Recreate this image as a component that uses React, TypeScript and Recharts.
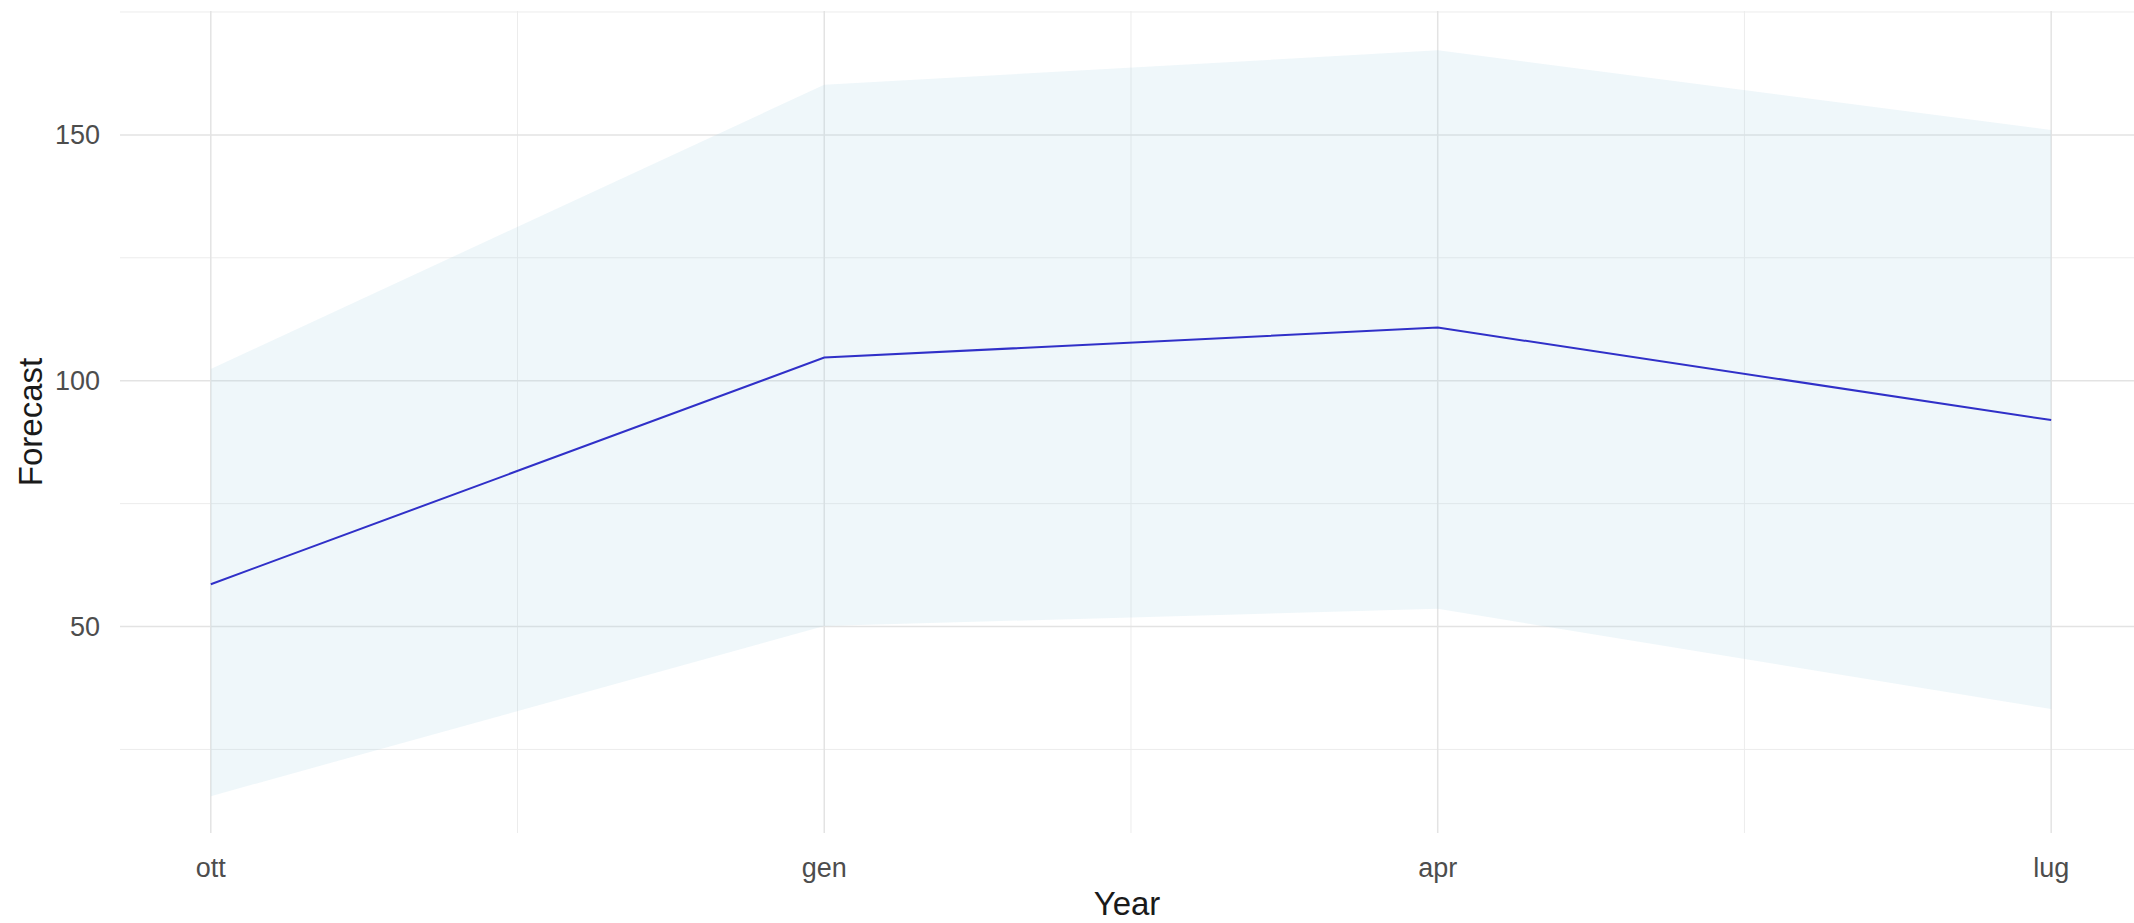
import * as React from "react"
import {
  ComposedChart,
  Area,
  Line,
  XAxis,
  YAxis,
  CartesianGrid,
} from "recharts"

const months = ["ott", "gen", "apr", "lug"]
const forecast = [58.6, 104.7, 110.8, 92.0]
const lower95 = [15.5, 50.1, 53.6, 33.2]
const upper95 = [102.4, 160.2, 167.2, 151.0]

const yTicks = [25, 50, 75, 100, 125, 150, 175]
const yLabels = [50, 100, 150]
const xTicks = [0, 0.5, 1, 1.5, 2, 2.5, 3]

const data = months.map((m, i) => ({
  idx: i,
  month: m,
  forecast: forecast[i],
  band: [lower95[i], upper95[i]],
}))

const FONT = "'Liberation Sans', Arial, sans-serif"

const YTitle = (props: any) => {
  const { viewBox } = props
  const cy = viewBox.y + viewBox.height / 2
  return (
    <text
      x={30}
      y={cy}
      transform={`rotate(-90, 30, ${cy})`}
      textAnchor="middle"
      dominantBaseline="central"
      fontSize={33}
      fontFamily={FONT}
      fill="#1a1a1a"
    >
      Forecast
    </text>
  )
}

export default function App() {
  return (
    <div style={{ position: "fixed", left: 0, top: 0, background: "#fff" }}>
      <ComposedChart
        width={2134}
        height={923}
        data={data}
        margin={{ top: 11, right: 0, bottom: 0, left: 0 }}
      >
        {/* minor grid */}
        <CartesianGrid
          stroke="#ececec"
          strokeWidth={1}
          horizontalValues={[25, 75, 125, 175]}
          verticalValues={[0.5, 1.5, 2.5]}
        />
        {/* major grid */}
        <CartesianGrid
          stroke="#e3e3e3"
          strokeWidth={1.5}
          horizontalValues={[50, 100, 150]}
          verticalValues={[0, 1, 2, 3]}
        />
        <XAxis
          dataKey="idx"
          type="number"
          domain={[-0.148, 3.135]}
          ticks={xTicks}
          allowDataOverflow
          axisLine={false}
          tickLine={false}
          tickSize={0}
          tickMargin={25}
          height={90}
          tick={{ fontSize: 27, fill: "#4d4d4d", fontFamily: FONT }}
          tickFormatter={(v: number) => (Number.isInteger(v) ? months[v] : "")}
          label={{
            value: "Year",
            position: "insideBottom",
            offset: 8,
            fontSize: 33,
            fill: "#1a1a1a",
            fontFamily: FONT,
          }}
        />
        <YAxis
          type="number"
          domain={[8, 175.2]}
          ticks={yTicks}
          allowDataOverflow
          axisLine={false}
          tickLine={false}
          tickSize={0}
          tickMargin={20}
          width={120}
          tick={{ fontSize: 27, fill: "#4d4d4d", fontFamily: FONT }}
          tickFormatter={(v: number) => (yLabels.includes(v) ? String(v) : "")}
          label={<YTitle />}
        />
        <Area
          dataKey="band"
          type="linear"
          stroke="none"
          fill="#add8e6"
          fillOpacity={0.2}
          isAnimationActive={false}
          dot={false}
          activeDot={false}
        />
        <Line
          dataKey="forecast"
          type="linear"
          stroke="#3030c8"
          strokeWidth={2}
          dot={false}
          activeDot={false}
          isAnimationActive={false}
        />
      </ComposedChart>
    </div>
  )
}
